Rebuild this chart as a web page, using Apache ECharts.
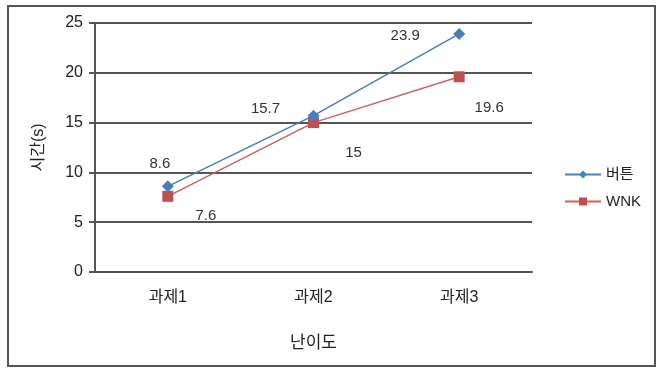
<!DOCTYPE html>
<html><head><meta charset="utf-8">
<script src="https://cdn.jsdelivr.net/npm/echarts@6/dist/echarts.min.js"></script>
<style>html,body{margin:0;padding:0;background:#fff}#frame{position:absolute;left:7px;top:5px;width:645px;height:358px;border:2px solid #555;box-sizing:content-box}#c{width:662px;height:370px;position:absolute;left:0;top:0}</style>
</head><body><div id="frame"></div><div id="c"></div>
<script>
const categories = ['과제1', '과제2', '과제3'];
const buttonValues = [8.6, 15.7, 23.9];
const wnkValues = [7.6, 15, 19.6];
const yTicks = [0, 5, 10, 15, 20, 25];

const chart = echarts.init(document.getElementById('c'));
const font = '"Liberation Sans", "Noto Sans CJK KR", sans-serif';
const blueLabelOffsets = [[-8, -4], [-48, 12], [-54, 20]];
const redLabelOffsets = [[38, 20], [40, 30], [30, 31]];
chart.setOption({
  animation: false,
  textStyle: { fontFamily: font },
  grid: { left: 95, right: 130, top: 23, bottom: 98 },
  legend: {
    orient: 'vertical', left: 559, top: 162, itemGap: 12,
    itemWidth: 36, itemHeight: 10,
    textStyle: { fontSize: 15, color: '#222', fontFamily: font },
    data: ['버튼', 'WNK']
  },
  xAxis: {
    type: 'category', data: categories, boundaryGap: true,
    axisLine: { lineStyle: { color: '#555', width: 2 } },
    axisTick: { show: false },
    axisLabel: { fontSize: 16, color: '#222', margin: 18 },
    name: '난이도', nameLocation: 'middle', nameGap: 63,
    nameTextStyle: { fontSize: 17, color: '#222' }
  },
  yAxis: {
    type: 'value', min: yTicks[0], max: yTicks[yTicks.length - 1], interval: 5,
    axisLine: { show: true, lineStyle: { color: '#555', width: 2 } },
    axisTick: { show: true, length: 6, lineStyle: { color: '#555', width: 2 } },
    axisLabel: { fontSize: 16, color: '#222', margin: 12 },
    splitLine: { lineStyle: { color: '#555', width: 2 } },
    name: '시간(s)', nameLocation: 'middle', nameGap: 48, nameRotate: 90,
    nameTextStyle: { fontSize: 16, color: '#222' }
  },
  series: [
    {
      name: '버튼', type: 'line', data: buttonValues.map((v, i) => ({ value: v, label: { offset: blueLabelOffsets[i] } })),
      symbol: 'diamond', symbolSize: 12,
      itemStyle: { color: '#4A7EBB' }, lineStyle: { color: '#4A7EBB', width: 1.5 },
      label: { show: true, position: 'top', fontSize: 15, color: '#333' },
      z: 3
    },
    {
      name: 'WNK', type: 'line', data: wnkValues.map((v, i) => ({ value: v, label: { offset: redLabelOffsets[i] } })),
      symbol: 'rect', symbolSize: 11,
      itemStyle: { color: '#C0504D' }, lineStyle: { color: '#D0605D', width: 1.5 },
      label: { show: true, position: 'inside', fontSize: 15, color: '#333' },
      z: 2
    }
  ]
});
</script></body></html>
